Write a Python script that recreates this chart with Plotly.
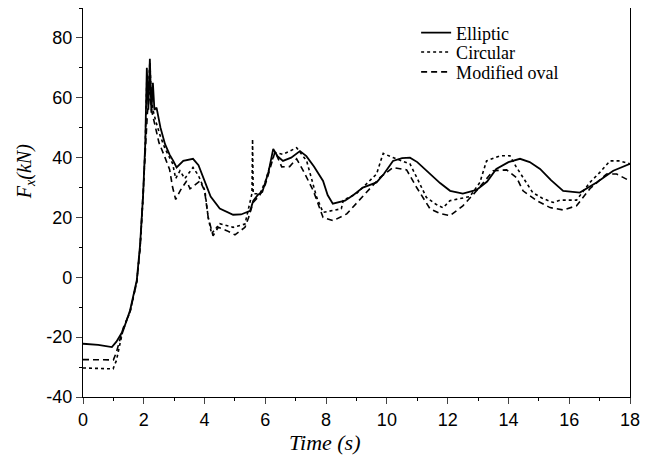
"""
force horizontale Fx pour trois formes de section
(elliptique, circulaire, ovale modifiee)
"""

import plotly.graph_objects as go

# temps (s) et force (kN)
t_elliptic = [0, 0.5, 0.95, 1.1, 1.32, 1.55, 1.77, 1.88, 1.98, 2.05, 2.1, 2.15, 2.2, 2.25,
              2.3, 2.35, 2.42, 2.55, 2.7, 2.85, 2.97, 3.08, 3.3, 3.62, 3.8, 4.0, 4.2, 4.5,
              4.94, 5.2, 5.5, 5.6, 5.75, 5.9, 6.1, 6.26, 6.4, 6.58, 6.85, 7.14, 7.35, 7.6,
              7.9, 8.05, 8.22, 8.62, 8.9, 9.21, 9.45, 9.66, 9.9, 10.2, 10.5, 10.76, 11.0,
              11.42, 11.75, 12.08, 12.5, 12.95, 13.3, 13.6, 14.0, 14.38, 14.7, 15.04, 15.4,
              15.8, 16.35, 16.9, 17.45, 18]
f_elliptic = [-22.2, -22.6, -23.3, -21.5, -17.8, -11, -1, 11, 28, 45, 70, 56, 73, 55,
              65, 56, 56.7, 50, 44.5, 41, 38.9, 36.7, 38.9, 39.6, 37.5, 32.5, 27, 23,
              20.9, 21, 22.2, 25.5, 27.5, 28.5, 35, 42.9, 40.5, 38.9, 40, 42.2, 40.5, 37,
              32.2, 27.5, 24.6, 25.6, 27.5, 30, 30.8, 31.7, 34.5, 38.9, 39.8, 40, 38.5,
              34.6, 31.5, 28.9, 28, 29.2, 32, 36.2, 38.5, 39.6, 38.5, 36.2, 32.5,
              28.9, 28.3, 31.7, 35.6, 37.9]

t_circular = [0, 0.5, 0.99, 1.05, 1.1, 1.2, 1.32, 1.55, 1.77, 1.88, 1.98, 2.05, 2.1, 2.15,
              2.2, 2.25, 2.3, 2.4, 2.55, 2.7, 2.85, 2.95, 3.05, 3.19, 3.35, 3.62, 3.8, 4.01,
              4.12, 4.23, 4.5, 4.94, 5.33, 5.49, 5.56, 5.58, 5.6, 5.82, 6.0, 6.15, 6.32,
              6.58, 7.03, 7.36, 7.69, 7.9, 8.13, 8.5, 8.57, 8.62, 9.0, 9.3, 9.66, 9.8, 9.88,
              10.2, 10.5, 10.76, 11.0, 11.3, 11.6, 11.85, 12.07, 12.73, 13.06, 13.28, 13.72,
              14.05, 14.25, 14.48, 14.8, 15.1, 15.47, 15.7, 16.24, 16.68, 17.0, 17.34, 17.67, 18]
f_circular = [-30.3, -30.4, -30.6, -29, -27.8, -23, -17.5, -11.5, -1.5, 10, 27, 45, 66, 62,
              72, 60, 56, 52, 47, 43, 40, 38, 33, 35.6, 33, 36.7, 34, 29,
              20, 14.6, 17.9, 16.7, 17.8, 25.6, 28, 46.2, 27.9, 27.9, 32, 37.2, 41.7,
              41.1, 43.3, 38.9, 26.7, 21.7, 22.2, 22.9, 26, 26, 28, 31, 34.5, 39, 41.4,
              40, 39, 37.9, 33, 26.7, 24.5, 23.2, 25.6, 27, 31.7, 38.9, 40.6,
              40.6, 37, 33.4, 28.3, 26.5, 25, 25.8, 25.8, 31.7, 35, 38.9, 38.9, 37.9]

t_oval = [0, 0.5, 1.0, 1.1, 1.2, 1.32, 1.55, 1.77, 1.88, 1.98, 2.05, 2.12, 2.2, 2.26, 2.35,
          2.5, 2.7, 2.85, 2.95, 3.05, 3.2, 3.41, 3.52, 3.7, 3.85, 4.0, 4.12, 4.28, 4.45,
          4.73, 5.0, 5.33, 5.45, 5.6, 5.82, 6.0, 6.15, 6.32, 6.54, 6.8, 7.03, 7.25, 7.58,
          7.9, 8.23, 8.68, 9.22, 9.77, 10.2, 10.65, 10.98, 11.42, 11.75, 12.08, 12.5,
          12.95, 13.5, 13.94, 14.27, 14.48, 14.93, 15.37, 15.8, 16.24, 16.68, 17.23, 17.56, 18]
f_oval = [-27.5, -27.6, -27.6, -25, -21, -17, -11.5, -1.5, 10, 27, 42, 55, 62, 55.6, 52,
          45, 40, 36, 30, 26, 29, 32.2, 29.6, 31, 32.2, 29, 20, 13.9, 16.7,
          15.6, 14.2, 16.7, 20, 25, 27.5, 31, 36, 42, 36.9, 37, 39.6, 35.6, 28.9,
          20, 18.9, 21.2, 27.2, 33.3, 36.7, 35.9, 30, 22.9, 21.3, 20.6, 23.9,
          28.9, 35.6, 35.9, 33.3, 28.9, 25.6, 23.3, 22.5, 23.9, 29.6, 34.5, 34.5, 32.2]

x_ticks = [0, 2, 4, 6, 8, 10, 12, 14, 16, 18]
x_labels = ["0", "2", "4", "6", "8", "10", "12", "14", "16", "18"]
y_ticks = [-40, -20, 0, 20, 40, 60, 80]
y_labels = ["-40", "-20", "0", "20", "40", "60", "80"]


def main():
    serif = "Liberation Serif, Times New Roman"
    fig = go.Figure()
    fig.add_trace(go.Scatter(x=t_elliptic, y=f_elliptic, mode="lines", name="Elliptic",
                             legend="legend",
                             line=dict(color="black", width=1.8)))
    fig.add_trace(go.Scatter(x=t_circular, y=f_circular, mode="lines", name="Circular",
                             legend="legend2",
                             line=dict(color="black", width=1.6, dash="dot")))
    fig.add_trace(go.Scatter(x=t_oval, y=f_oval, mode="lines", name="Modified oval",
                             legend="legend3",
                             line=dict(color="black", width=1.6, dash="6px,4px")))

    # une legende par courbe pour garder l'espacement serre de l'original
    def leg(y):
        return dict(x=0.609, y=y, xanchor="left", yanchor="middle",
                    bgcolor="rgba(0,0,0,0)",
                    font=dict(family=serif, size=18, color="black"))

    axis_font = dict(family="Liberation Sans, Arial", size=18, color="black")
    # la page a une marge de 8 px : figure un peu plus petite
    fig.update_layout(
        width=647, height=448,
        margin=dict(l=75, r=25, t=0, b=59),
        paper_bgcolor="white", plot_bgcolor="white",
        showlegend=True,
        legend=leg(0.936), legend2=leg(0.886), legend3=leg(0.835),
        xaxis=dict(range=[0, 18], tickvals=x_ticks, ticktext=x_labels,
                   ticks="outside", ticklen=6, tickwidth=1,
                   showline=True, linecolor="black", linewidth=1.2, mirror=True,
                   showgrid=False, zeroline=False, tickfont=axis_font, automargin=False,
                   minor=dict(dtick=1, ticks="outside", ticklen=3, tickcolor="black")),
        yaxis=dict(range=[-40, 90], tickvals=y_ticks, ticktext=y_labels,
                   ticks="outside", ticklen=6, tickwidth=1,
                   showline=True, linecolor="black", linewidth=1.2, mirror=True,
                   showgrid=False, zeroline=False, tickfont=axis_font, automargin=False,
                   minor=dict(dtick=10, ticks="outside", ticklen=3, tickcolor="black")),
        annotations=[
            dict(text="<i>F<sub>x</sub>(kN)</i>", xref="paper", yref="paper",
                 x=-0.106, y=0.578, textangle=-90, showarrow=False,
                 xanchor="center", yanchor="middle",
                 font=dict(family=serif, size=20, color="black")),
            dict(text="<i>Time (s)</i>", xref="paper", yref="paper",
                 x=0.442, y=-0.117, showarrow=False,
                 xanchor="center", yanchor="middle",
                 font=dict(family=serif, size=22, color="black")),
        ],
    )
    fig.write_html("out.html")


if __name__ == "__main__":
    main()
